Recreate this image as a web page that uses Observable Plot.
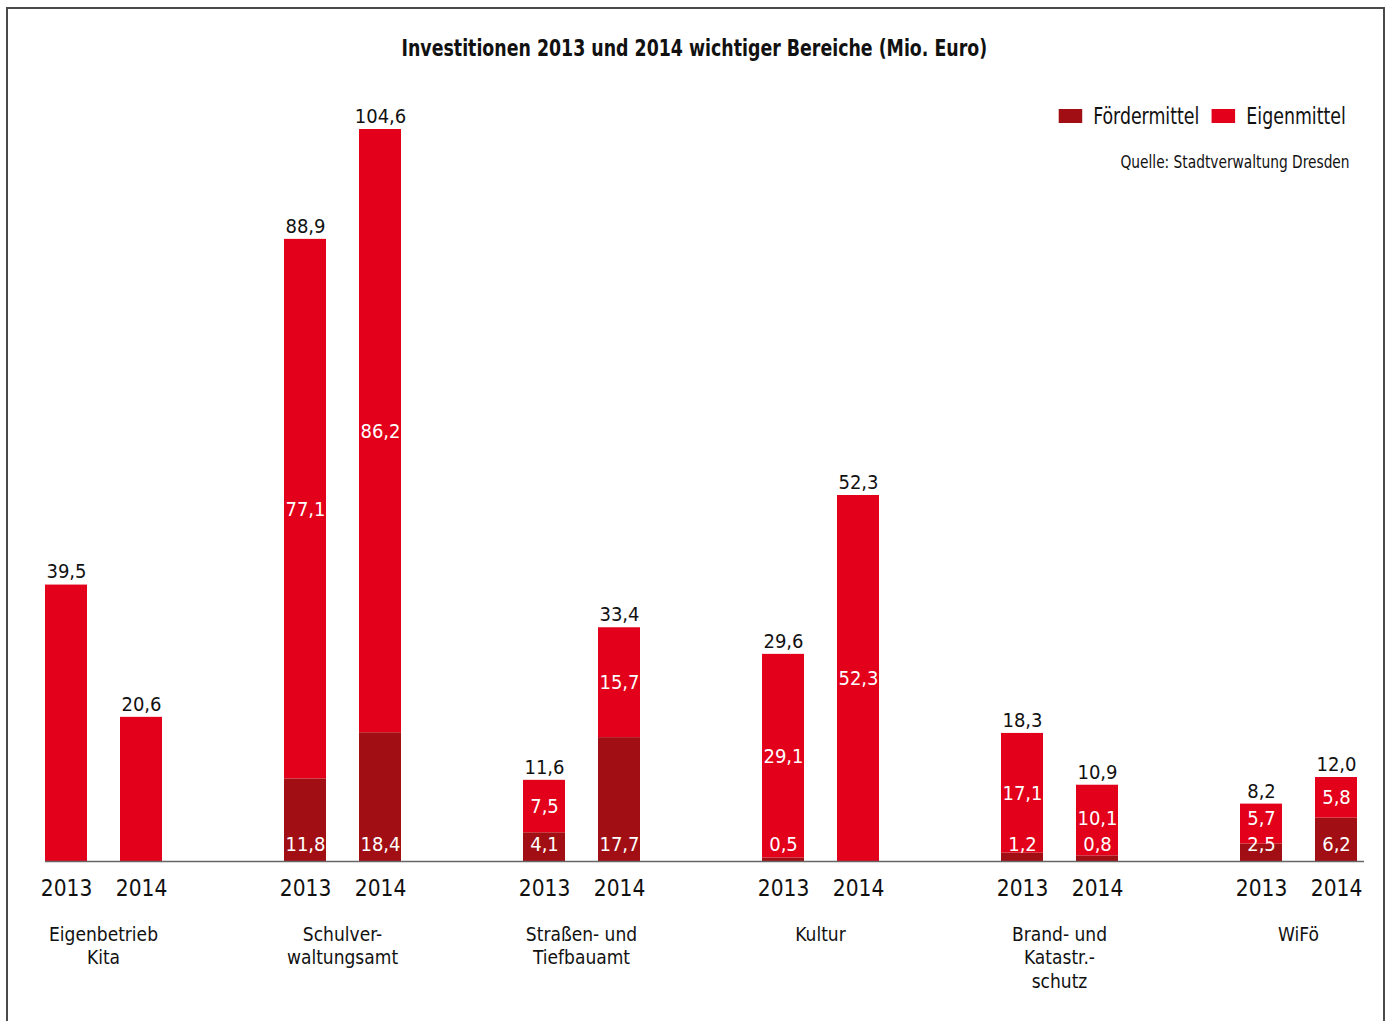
<!DOCTYPE html>
<html>
<head>
<meta charset="utf-8">
<script src="https://cdn.jsdelivr.net/npm/d3@7"></script>
<script src="https://cdn.jsdelivr.net/npm/@observablehq/plot@0.6"></script>
<style>
  html, body { margin: 0; padding: 0; background: #fff; }
  body { font-family: "DejaVu Sans Condensed", "DejaVu Sans", sans-serif; font-stretch: condensed; color: #111; }
  #wrap { position: relative; width: 1390px; height: 1021px; overflow: hidden; }
  #frame { position: absolute; left: 6px; top: 7px; width: 1379px; height: 1100px; border: 2px solid #4a4a4a; box-sizing: border-box; }
  #title { position: absolute; left: 0; width: 1390px; top: 35px; text-align: center; font-weight: bold; font-size: 23px; transform: scaleX(0.84); transform-origin: 691px 0; }
  #legend { position: absolute; right: 44px; top: 103px; display: flex; align-items: center; font-size: 23px; transform: scaleX(0.84); transform-origin: right center; }
  #legend .sw { display: inline-block; width: 28px; height: 14px; margin-right: 13px; }
  #legend .it { display: flex; align-items: center; margin-left: 15px; }
  #source { position: absolute; right: 40px; top: 152px; font-size: 17px; transform: scaleX(0.9); transform-origin: right center; }
  #chart { position: absolute; left: 0; top: 80px; }
</style>
</head>
<body>
<div id="wrap">
  <div id="frame"></div>
  <div id="title">Investitionen 2013 und 2014 wichtiger Bereiche (Mio. Euro)</div>
  <div id="legend"></div>
  <div id="source">Quelle: Stadtverwaltung Dresden</div>
  <div id="chart"></div>
</div>
<script>
// ---- data ----
const groups = ["Eigenbetrieb\nKita", "Schulver-\nwaltungsamt", "Straßen- und\nTiefbauamt", "Kultur", "Brand- und\nKatastr.-\nschutz", "WiFö"];
const years = ["2013", "2014"];
const foerdermittel = [[null, null], [11.8, 18.4], [4.1, 17.7], [0.5, null], [1.2, 0.8], [2.5, 6.2]];
const eigenmittel   = [[null, null], [77.1, 86.2], [7.5, 15.7], [29.1, 52.3], [17.1, 10.1], [5.7, 5.8]];
const gesamt        = [[39.5, 20.6], [88.9, 104.6], [11.6, 33.4], [29.6, 52.3], [18.3, 10.9], [8.2, 12.0]];
const seriesNames = ["Fördermittel", "Eigenmittel"];
const seriesColors = ["#a10f14", "#e2001a"];

const fmt = v => d3.format(".1f")(v).replace(".", ",");

// build table
const rows = [];
const totals = [];
groups.forEach((g, i) => {
  years.forEach((yr, j) => {
    const f = foerdermittel[i][j], e = eigenmittel[i][j], t = gesamt[i][j];
    const fv = f ?? 0;
    const ev = e ?? (t - fv);
    rows.push({group: g, year: yr, type: seriesNames[0], value: fv, label: f, mid: null});
    // label sits at the middle of its segment, but never on top of the Fördermittel label
    rows.push({group: g, year: yr, type: seriesNames[1], value: ev, label: e, mid: Math.max(fv + ev / 2, 6.1)});
    totals.push({group: g, year: yr, value: t});
  });
});

// legend
const leg = document.getElementById("legend");
seriesNames.forEach((n, i) => {
  const it = document.createElement("div");
  it.className = "it";
  it.innerHTML = `<span class="sw" style="background:${seriesColors[i]}"></span><span>${n}</span>`;
  leg.appendChild(it);
});

const FONT = '"DejaVu Sans Condensed", "DejaVu Sans", sans-serif';

const plot = Plot.plot({
  width: 1390,
  height: 930,
  marginTop: 49,
  marginBottom: 149,
  marginLeft: 27,
  marginRight: 17,
  style: {fontFamily: FONT, fontSize: "20px", background: "transparent", overflow: "visible", fontStretch: "condensed"},
  fx: {domain: groups, paddingInner: 0.373, paddingOuter: 0, axis: null, label: null},
  x: {domain: years, paddingInner: 0.446, paddingOuter: 0.223, axis: null, label: null},
  y: {domain: [0, d3.max(gesamt.flat())], nice: false, axis: null, label: null},
  color: {domain: seriesNames, range: seriesColors},
  marks: [
    Plot.barY(rows, {fx: "group", x: "year", y: "value", fill: "type", z: "type", order: seriesNames}),
    // Fördermittel labels near base
    Plot.text(rows.filter(d => d.type === seriesNames[0] && d.label != null),
      {fx: "group", x: "year", y: 0, dy: -17, text: d => fmt(d.label), fill: "white", fontSize: 20}),
    // Eigenmittel labels inside their segment
    Plot.text(rows.filter(d => d.type === seriesNames[1] && d.label != null),
      {fx: "group", x: "year", y: "mid", text: d => fmt(d.label), fill: "white", fontSize: 20}),
    // totals on top
    Plot.text(totals, {fx: "group", x: "year", y: "value", dy: -13, text: d => fmt(d.value), fill: "#111", fontSize: 20}),
    // year labels
    Plot.text(totals, {fx: "group", x: "year", frameAnchor: "bottom", dy: 34, text: "year", fill: "#111", fontSize: 22.5}),
    // group labels
    Plot.text(groups, {fx: d => d, frameAnchor: "bottom", dy: 62, lineAnchor: "top", lineHeight: 1.26, text: d => d, fill: "#111", fontSize: 19})
  ]
});

document.getElementById("chart").appendChild(plot);

// continuous baseline spanning all bars
const svgBox = plot.getBoundingClientRect();
const rects = Array.from(plot.querySelectorAll("rect")).map(r => r.getBoundingClientRect()).filter(b => b.width > 0 && b.width < 100);
const left = d3.min(rects, b => b.left) - svgBox.left;
const right = d3.max(rects, b => b.right) - svgBox.left + 7;
const yBase = plot.scale("y").apply(0);
d3.select(plot).append("line")
  .attr("x1", left).attr("x2", right)
  .attr("y1", yBase + 0.5).attr("y2", yBase + 0.5)
  .attr("stroke", "#666").attr("stroke-width", 1.5);
</script>
</body>
</html>
